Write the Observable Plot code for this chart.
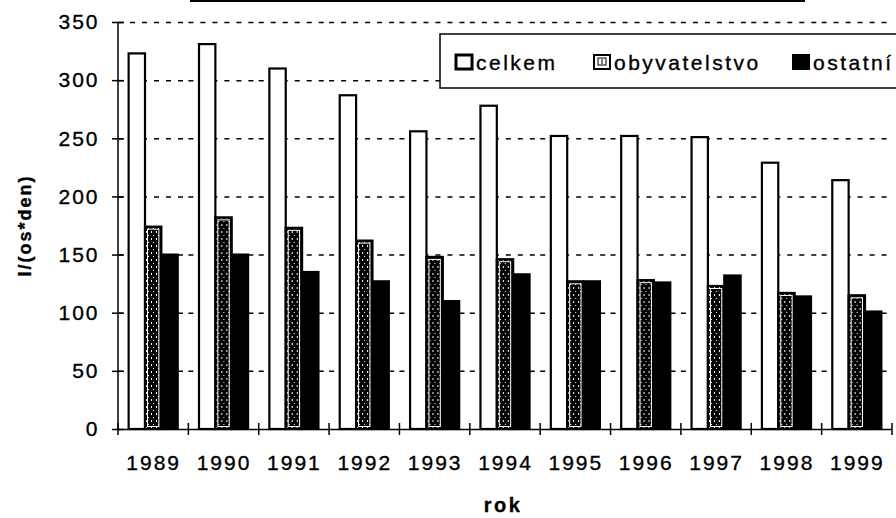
<!DOCTYPE html>
<html>
<head>
<meta charset="utf-8">
<script src="https://cdn.jsdelivr.net/npm/d3@7"></script>
<script src="https://cdn.jsdelivr.net/npm/@observablehq/plot@0.6"></script>
<style>
  html, body { margin: 0; padding: 0; background: #fff; }
  #chart { width: 896px; height: 518px; overflow: hidden; }
  #chart svg text { stroke: black; stroke-width: 0.35px; }
</style>
</head>
<body>
<div id="chart"></div>
<script>
const years = ["1989","1990","1991","1992","1993","1994","1995","1996","1997","1998","1999"];
const seriesNames = ["celkem", "obyvatelstvo", "ostatní"];
const celkem       = [323, 331, 310, 287, 256, 278, 252, 252, 251, 229, 214];
const obyvatelstvo = [174, 182, 173, 162, 148, 146, 127, 128, 123, 117, 115];
const ostatni      = [150, 150, 135, 127, 110, 133, 127, 126, 132, 114, 101];
const yTicks = [0, 50, 100, 150, 200, 250, 300, 350];
const xTitle = "rok";
const yTitle = "l/(os*den)";

const rows = years.flatMap((year, i) => [
  {year, series: seriesNames[0], value: celkem[i]},
  {year, series: seriesNames[1], value: obyvatelstvo[i]},
  {year, series: seriesNames[2], value: ostatni[i]}
]);

const FONT = "'Liberation Sans', Arial, Helvetica, sans-serif";

const plot = Plot.plot({
  width: 896,
  height: 518,
  marginLeft: 118,
  marginRight: 4,
  marginTop: 22,
  marginBottom: 89,
  style: {fontFamily: FONT, fontSize: "21px", letterSpacing: "2px", background: "white", color: "black", overflow: "visible"},
  facet: {data: rows, x: "year"},
  fx: {domain: years, padding: 0, round: false, label: null},
  x: {domain: seriesNames, paddingInner: 0, paddingOuter: 0.65, round: false, axis: null},
  y: {domain: [0, 350]},
  color: {domain: seriesNames, range: ["white", "url(#obyvPattern)", "black"]},
  marks: [
    Plot.ruleY(yTicks.filter(d => d > 0), {stroke: "black", strokeWidth: 1.5, strokeDasharray: "5,7"}),
    Plot.barY(rows, {x: "series", y: "value", fill: "series", stroke: "black", strokeWidth: 2.2}),
    Plot.barY(rows, {filter: d => d.series === seriesNames[1], x: "series", y: "value", fill: "none", stroke: "white", strokeWidth: 1, inset: 2.5}),
    Plot.ruleY([0], {stroke: "black", strokeWidth: 1.5}),
    Plot.axisY({ticks: yTicks, tickSize: 12, dx: 6, tickPadding: 13, label: null, fontSize: 21, strokeWidth: 1.5}),
    Plot.axisFx({anchor: "bottom", tickSize: 0, tickPadding: 26, label: null, fontSize: 21})
  ]
});

document.getElementById("chart").appendChild(plot);

const svg = d3.select(plot);
const fx = plot.scale("fx");
const y = plot.scale("y");

// pattern for "obyvatelstvo"
const defs = svg.insert("defs", ":first-child");
const pat = defs.append("pattern").attr("id", "obyvPattern").attr("patternUnits", "userSpaceOnUse")
  .attr("width", 5).attr("height", 7);
pat.append("rect").attr("width", 5).attr("height", 7).attr("fill", "black");
pat.append("rect").attr("x", 1).attr("y", 0).attr("width", 1).attr("height", 2).attr("fill", "white");
pat.append("rect").attr("x", 3).attr("y", 4).attr("width", 1).attr("height", 1).attr("fill", "white");

const x0 = fx.apply(years[0]);
const bw = fx.bandwidth;
const y0 = y.apply(0);
const yTop = y.apply(yTicks[yTicks.length - 1]);

const over = svg.append("g").attr("text-anchor", "start");
// y axis line
over.append("line").attr("x1", x0).attr("x2", x0).attr("y1", yTop).attr("y2", y0)
  .attr("stroke", "black").attr("stroke-width", 1.5);
// x boundary ticks
const bounds = years.map(d => fx.apply(d)).concat([fx.apply(years[years.length - 1]) + bw]);
over.selectAll("line.bt").data(bounds).join("line").attr("class", "bt")
  .attr("x1", d => d).attr("x2", d => d).attr("y1", y0 - 6).attr("y2", y0 + 6)
  .attr("stroke", "black").attr("stroke-width", 1.5);

// top line (remnant of a title frame)
over.append("line").attr("x1", 190).attr("x2", 805).attr("y1", 1).attr("y2", 1)
  .attr("stroke", "black").attr("stroke-width", 2);

// legend
const lg = over.append("g").attr("font-family", FONT).attr("font-size", 21)
  .attr("text-anchor", "start").style("letter-spacing", "2.5px");
lg.append("rect").attr("x", 440).attr("y", 34).attr("width", 480).attr("height", 54)
  .attr("fill", "white").attr("stroke", "black").attr("stroke-width", 1.5);
const itemX = [455, 593, 792];
seriesNames.forEach((name, i) => {
  const g = lg.append("g").attr("transform", `translate(${itemX[i]},0)`);
  if (i === 0) {
    g.append("rect").attr("x", 1).attr("y", 55).attr("width", 16).attr("height", 14)
      .attr("fill", "white").attr("stroke", "black").attr("stroke-width", 3);
  } else if (i === 1) {
    g.append("rect").attr("x", 1).attr("y", 55).attr("width", 16).attr("height", 14)
      .attr("fill", "white").attr("stroke", "black").attr("stroke-width", 2);
    g.append("rect").attr("x", 5).attr("y", 58).attr("width", 8).attr("height", 7)
      .attr("fill", "white").attr("stroke", "black").attr("stroke-width", 1);
    g.append("line").attr("x1", 9).attr("x2", 9).attr("y1", 59).attr("y2", 64)
      .attr("stroke", "black").attr("stroke-width", 1);
  } else {
    g.append("rect").attr("x", 0).attr("y", 54).attr("width", 18).attr("height", 16)
      .attr("fill", "black");
  }
  g.append("text").attr("x", 21).attr("y", 70).attr("text-anchor", "start").attr("fill", "black").text(name);
});

// axis titles
over.append("text").attr("x", 503).attr("y", 512).attr("text-anchor", "middle")
  .attr("font-family", FONT).attr("font-size", 20).attr("font-weight", "bold")
  .style("letter-spacing", "2.5px").attr("fill", "black").text(xTitle);
over.append("text").attr("transform", `translate(31,${(y0 + yTop) / 2}) rotate(-90)`)
  .attr("text-anchor", "middle")
  .attr("font-family", FONT).attr("font-size", 18).attr("font-weight", "bold")
  .style("letter-spacing", "2px").attr("fill", "black").text(yTitle);
</script>
</body>
</html>
